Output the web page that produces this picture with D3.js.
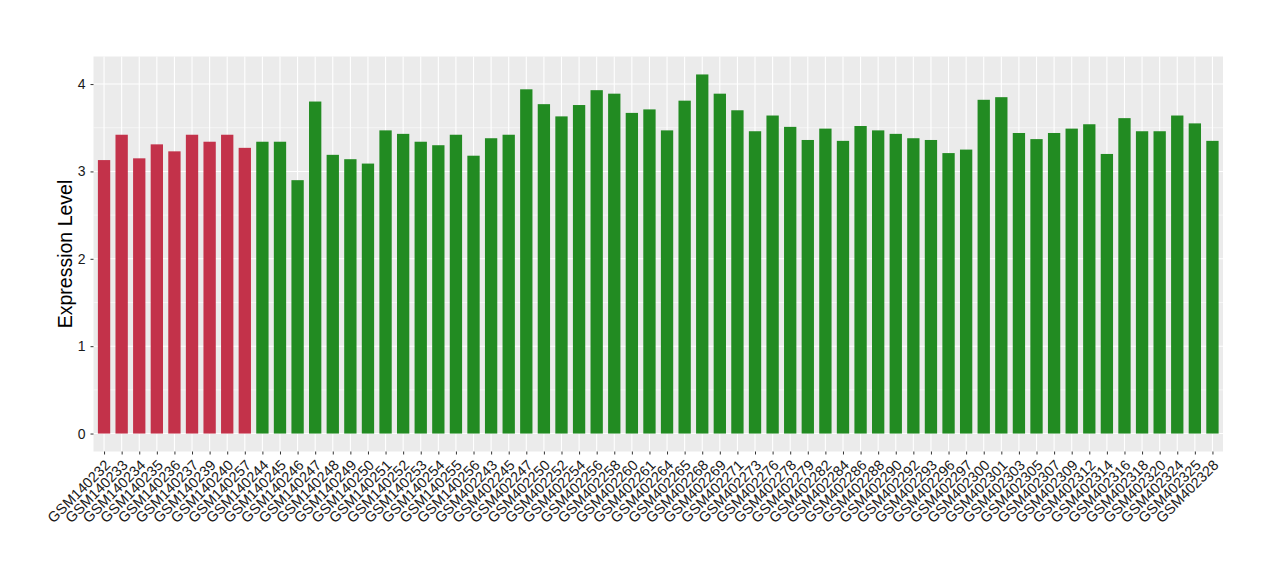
<!DOCTYPE html>
<html>
<head>
<meta charset="utf-8">
<script src="https://cdn.jsdelivr.net/npm/d3@7"></script>
<style>
  body { margin: 0; background: #fff; }
  svg { display: block; font-family: "Liberation Sans", Arial, sans-serif; }
</style>
</head>
<body>
<svg id="chart" width="1280" height="580"></svg>
<script>
var samples = ['GSM140232','GSM140233','GSM140234','GSM140235','GSM140236','GSM140237','GSM140239','GSM140240','GSM140257',
  'GSM140244','GSM140245','GSM140246','GSM140247','GSM140248','GSM140249','GSM140250','GSM140251','GSM140252','GSM140253',
  'GSM140254','GSM140255','GSM140256','GSM402243','GSM402245','GSM402247','GSM402250','GSM402252','GSM402254','GSM402256',
  'GSM402258','GSM402260','GSM402261','GSM402264','GSM402265','GSM402268','GSM402269','GSM402271','GSM402273','GSM402276',
  'GSM402278','GSM402279','GSM402282','GSM402284','GSM402286','GSM402288','GSM402290','GSM402292','GSM402293','GSM402296',
  'GSM402297','GSM402300','GSM402301','GSM402303','GSM402305','GSM402307','GSM402309','GSM402312','GSM402314','GSM402316',
  'GSM402318','GSM402320','GSM402324','GSM402325','GSM402328'];

var values = [3.13,3.42,3.15,3.31,3.23,3.42,3.34,3.42,3.27,
  3.34,3.34,2.90,3.80,3.19,3.14,3.09,3.47,3.43,3.34,
  3.30,3.42,3.18,3.38,3.42,3.94,3.77,3.63,3.76,3.93,
  3.89,3.67,3.71,3.47,3.81,4.11,3.89,3.70,3.46,3.64,
  3.51,3.36,3.49,3.35,3.52,3.47,3.43,3.38,3.36,3.21,
  3.25,3.82,3.85,3.44,3.37,3.44,3.49,3.54,3.20,3.61,
  3.46,3.46,3.64,3.55,3.35];

var groups = samples.map(function(d, i) { return i < 9 ? 'a' : 'b'; });
var groupColors = {a: '#C3324A', b: '#228B22'};
var yTicks = [0, 1, 2, 3, 4];

var svg = d3.select('#chart');
var pLeft = 93.5, pRight = 1223, pTop = 56.5, pBottom = 451.5;

var n = samples.length;
var unit = (pRight - pLeft) / (n - 1 + 1.2);
var x = d3.scalePoint().domain(samples)
    .range([pLeft + 0.6 * unit, pRight - 0.6 * unit]);

var ymax = d3.max(values);
var y = d3.scaleLinear().domain([-0.05 * ymax, ymax * 1.05]).range([pBottom, pTop]);

// panel
svg.append('rect')
    .attr('x', pLeft).attr('y', pTop)
    .attr('width', pRight - pLeft).attr('height', pBottom - pTop)
    .attr('fill', '#EBEBEB');

// minor grid
var minor = d3.range(0.5, ymax * 1.05, 1);
svg.selectAll('.minor').data(minor).enter().append('line')
    .attr('x1', pLeft).attr('x2', pRight)
    .attr('y1', function(d) { return y(d); }).attr('y2', function(d) { return y(d); })
    .attr('stroke', '#fff').attr('stroke-width', 0.55);

// major grid
svg.selectAll('.hgrid').data(yTicks).enter().append('line')
    .attr('x1', pLeft).attr('x2', pRight)
    .attr('y1', function(d) { return y(d); }).attr('y2', function(d) { return y(d); })
    .attr('stroke', '#fff').attr('stroke-width', 1.1);

svg.selectAll('.vgrid').data(samples).enter().append('line')
    .attr('y1', pTop).attr('y2', pBottom)
    .attr('x1', function(d) { return x(d); }).attr('x2', function(d) { return x(d); })
    .attr('stroke', '#fff').attr('stroke-width', 1.1);

// bars
var bw = unit * 0.7;
svg.selectAll('.bar').data(values).enter().append('rect')
    .attr('x', function(d, i) { return x(samples[i]) - bw / 2; })
    .attr('width', bw)
    .attr('y', function(d) { return y(d); })
    .attr('height', function(d) { return y(0) - y(d); })
    .attr('fill', function(d, i) { return groupColors[groups[i]]; });

// y axis
var yAxis = svg.append('g')
    .attr('transform', 'translate(' + pLeft + ',0)')
    .call(d3.axisLeft(y).tickValues(yTicks).tickSize(3).tickPadding(5).tickFormat(d3.format('d')));
yAxis.select('.domain').remove();
yAxis.selectAll('line').attr('stroke', '#333');
yAxis.selectAll('text').attr('fill', '#1a1a1a').style('font-size', '14px');

// x axis
var xAxis = svg.append('g')
    .attr('transform', 'translate(0,' + pBottom + ')')
    .call(d3.axisBottom(x).tickSize(3).tickPadding(2));
xAxis.select('.domain').remove();
xAxis.selectAll('line').attr('stroke', '#333');
xAxis.selectAll('text')
    .attr('fill', '#1a1a1a')
    .style('font-size', '14.5px')
    .attr('text-anchor', 'end')
    .attr('x', 0).attr('y', 0)
    .attr('dy', '0.35em')
    .attr('transform', 'translate(3,11) rotate(-45)');

// y title
svg.append('text')
    .attr('transform', 'translate(72,' + ((pTop + pBottom) / 2) + ') rotate(-90)')
    .attr('text-anchor', 'middle')
    .style('font-size', '19.5px')
    .attr('fill', '#000')
    .text('Expression Level');
</script>
</body>
</html>
